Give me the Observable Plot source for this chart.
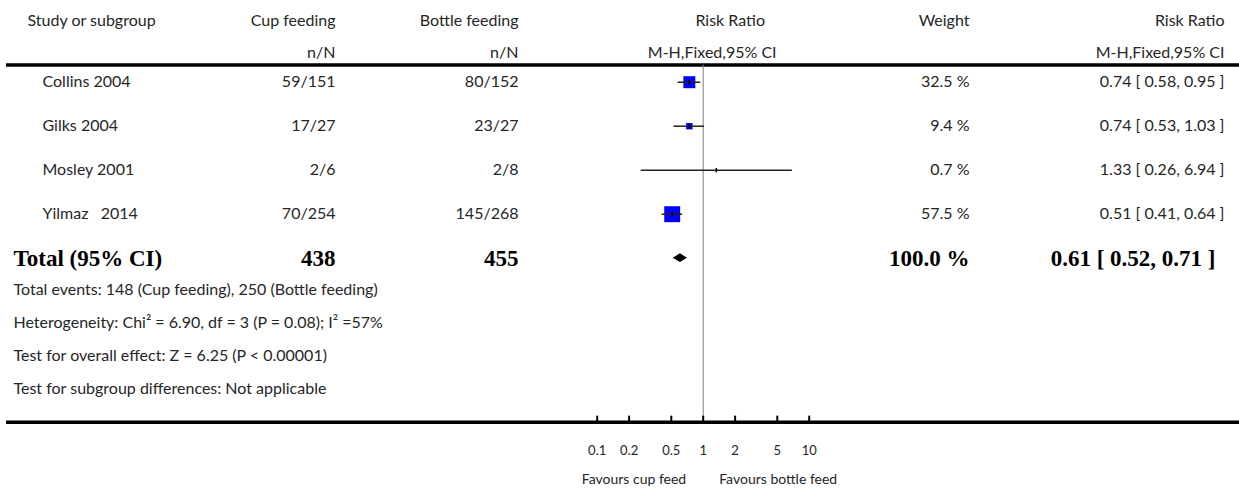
<!DOCTYPE html>
<html><head><meta charset="utf-8">
<script src="https://cdn.jsdelivr.net/npm/d3@7"></script>
<script src="https://cdn.jsdelivr.net/npm/@observablehq/plot@0.6"></script>
<style>body{margin:0;background:#fff}</style>
</head><body><div id="chart"></div>
<script>
// ---- data ----
const studies = ["Collins 2004", "Gilks 2004", "Mosley 2001", "Yilmaz   2014"];
const cupEvents = [59, 17, 2, 70];
const cupTotal = [151, 27, 6, 254];
const bottleEvents = [80, 23, 2, 145];
const bottleTotal = [152, 27, 8, 268];
const riskRatio = [0.74, 0.74, 1.33, 0.51];
const ciLower = [0.58, 0.53, 0.26, 0.41];
const ciUpper = [0.95, 1.03, 6.94, 0.64];
const weights = [32.5, 9.4, 0.7, 57.5];

const totalLabel = "Total (95% CI)";
const totalCup = 438;
const totalBottle = 455;
const totalRR = 0.61;
const totalLower = 0.52;
const totalUpper = 0.71;
const totalWeight = 100.0;

const headerTop = ["Study or subgroup", "Cup feeding", "Bottle feeding", "Risk Ratio", "Weight", "Risk Ratio"];
const headerSub = ["n/N", "n/N", "M-H,Fixed,95% CI", "M-H,Fixed,95% CI"];
const footnotes = [
  "Total events: 148 (Cup feeding), 250 (Bottle feeding)",
  "Heterogeneity: Chi\u00b2 = 6.90, df = 3 (P = 0.08); I\u00b2 =57%",
  "Test for overall effect: Z = 6.25 (P < 0.00001)",
  "Test for subgroup differences: Not applicable"
];
const axisTicks = [0.1, 0.2, 0.5, 1, 2, 5, 10];
const tickLabels = ["0.1", "0.2", "0.5", "1", "2", "5", "10"];
const favourLabels = ["Favours cup feed", "Favours bottle feed"];

// ---- layout (row units of the y scale) ----
const headerRow1 = -1.40, headerRow2 = -0.675, ruleTopRow = -0.39;
const footRows = [4.73, 5.47, 6.21, 6.96];
const axisRow = 7.73, tickLabelRow = 8.37, favoursRow = 9.03;

const rows = studies.map((s, i) => ({
  i, study: s,
  cup: `${cupEvents[i]}/${cupTotal[i]}`,
  bottle: `${bottleEvents[i]}/${bottleTotal[i]}`,
  rr: riskRatio[i], lo: ciLower[i], hi: ciUpper[i], weight: weights[i],
  wtext: `${weights[i].toFixed(1)} %`,
  rrtext: `${riskRatio[i].toFixed(2)} [ ${ciLower[i].toFixed(2)}, ${ciUpper[i].toFixed(2)} ]`
}));
const totalRow = studies.length;
const diamond = [
  {x: totalLower, y1: totalRow, y2: totalRow},
  {x: totalRR, y1: totalRow - 0.1, y2: totalRow + 0.1},
  {x: totalUpper, y1: totalRow, y2: totalRow}
];
const vtick = {draw(ctx, size) { const h = Math.sqrt(size) / 2; ctx.moveTo(0, -h); ctx.lineTo(0, h); }};

const txt = "#262626";
const sans = "Lato, 'Open Sans', sans-serif";
const serif = "'Liberation Serif', 'DejaVu Serif', serif";
const bold = {fontFamily: serif, fontWeight: "bold", fontSize: 23, fill: "black"};

const plot = Plot.plot({
  width: 1239, height: 491, margin: 0,
  style: {fontFamily: sans, fontSize: "16px", color: txt, background: "white", whiteSpace: "pre"},
  x: {type: "log", domain: [0.1, 10], range: [596.7, 808.7], axis: null},
  y: {type: "linear", domain: [0, 1], range: [81.7, 125.7], axis: null},
  r: {type: "sqrt", domain: [0, 100], range: [0, 11.85]},
  marks: [
    // rules
    Plot.ruleY([ruleTopRow, axisRow], {y: d => d, insetLeft: 6, stroke: "black", strokeWidth: 3.5}),
    Plot.ruleX([1], {x: d => d, y1: ruleTopRow, y2: axisRow, stroke: "#808080", strokeWidth: 1}),
    Plot.ruleX(axisTicks, {x: d => d, y1: axisRow - 0.14, y2: axisRow, stroke: "black", strokeWidth: 2}),
    Plot.text(axisTicks, {x: d => d, y: tickLabelRow, text: (d, i) => tickLabels[i], fontSize: 13, fill: txt}),
    Plot.text([favourLabels[0]], {x: 1, y: favoursRow, text: d => d, textAnchor: "end", dx: -17, fontSize: 14, fill: txt}),
    Plot.text([favourLabels[1]], {x: 1, y: favoursRow, text: d => d, textAnchor: "start", dx: 16, fontSize: 14, fill: txt}),
    // forest marks
    Plot.dot(rows, {x: "rr", y: "i", r: "weight", symbol: "square", fill: "#0000ff", stroke: null}),
    Plot.ruleY(rows, {y: "i", x1: "lo", x2: "hi", stroke: "#222", strokeWidth: 1.5}),
    Plot.dot(rows, {x: "rr", y: "i", r: 2.5, symbol: vtick, stroke: "black", strokeWidth: 1.5, fill: null}),
    Plot.area(diamond, {x1: "x", y1: "y1", y2: "y2", fill: "black", curve: "linear"}),
    // headers
    Plot.text([headerTop[0]], {y: headerRow1, text: d => d, frameAnchor: "left", dx: 27, fill: txt}),
    Plot.text([headerTop[1]], {y: headerRow1, text: d => d, frameAnchor: "left", textAnchor: "end", dx: 335, fill: txt}),
    Plot.text([headerSub[0]], {y: headerRow2, text: d => d, frameAnchor: "left", textAnchor: "end", dx: 335, fill: txt}),
    Plot.text([headerTop[2]], {y: headerRow1, text: d => d, frameAnchor: "left", textAnchor: "end", dx: 518, fill: txt}),
    Plot.text([headerSub[1]], {y: headerRow2, text: d => d, frameAnchor: "left", textAnchor: "end", dx: 518, fill: txt}),
    Plot.text([headerTop[3]], {x: 1, y: headerRow1, text: d => d, dx: 27, fill: txt}),
    Plot.text([headerSub[2]], {x: 1, y: headerRow2, text: d => d, dx: 9, fill: txt}),
    Plot.text([headerTop[4]], {y: headerRow1, text: d => d, frameAnchor: "right", textAnchor: "end", dx: -270, fill: txt}),
    Plot.text([headerTop[5]], {y: headerRow1, text: d => d, frameAnchor: "right", textAnchor: "end", dx: -15, fill: txt}),
    Plot.text([headerSub[3]], {y: headerRow2, text: d => d, frameAnchor: "right", textAnchor: "end", dx: -15, fill: txt}),
    // study rows
    Plot.text(rows, {y: "i", text: "study", frameAnchor: "left", dx: 42, fill: txt}),
    Plot.text(rows, {y: "i", text: "cup", frameAnchor: "left", textAnchor: "end", dx: 335, fill: txt}),
    Plot.text(rows, {y: "i", text: "bottle", frameAnchor: "left", textAnchor: "end", dx: 518, fill: txt}),
    Plot.text(rows, {y: "i", text: "wtext", frameAnchor: "right", textAnchor: "end", dx: -270, fill: txt}),
    Plot.text(rows, {y: "i", text: "rrtext", frameAnchor: "right", textAnchor: "end", dx: -15, fill: txt}),
    // total row
    Plot.text([totalLabel], {y: totalRow, text: d => d, frameAnchor: "left", dx: 13, ...bold}),
    Plot.text([totalCup], {y: totalRow, text: d => String(d), frameAnchor: "left", textAnchor: "end", dx: 335, ...bold}),
    Plot.text([totalBottle], {y: totalRow, text: d => String(d), frameAnchor: "left", textAnchor: "end", dx: 518, ...bold}),
    Plot.text([totalWeight], {y: totalRow, text: d => `${d.toFixed(1)} %`, frameAnchor: "right", textAnchor: "end", dx: -270, ...bold}),
    Plot.text([totalRR], {y: totalRow, text: d => `${d.toFixed(2)} [ ${totalLower.toFixed(2)}, ${totalUpper.toFixed(2)} ]`, frameAnchor: "right", textAnchor: "end", dx: -24, ...bold}),
    // footnotes
    Plot.text(footnotes, {y: (d, i) => footRows[i], text: d => d, frameAnchor: "left", dx: 13, fill: txt})
  ]
});
document.getElementById("chart").append(plot);
</script>
</body></html>
